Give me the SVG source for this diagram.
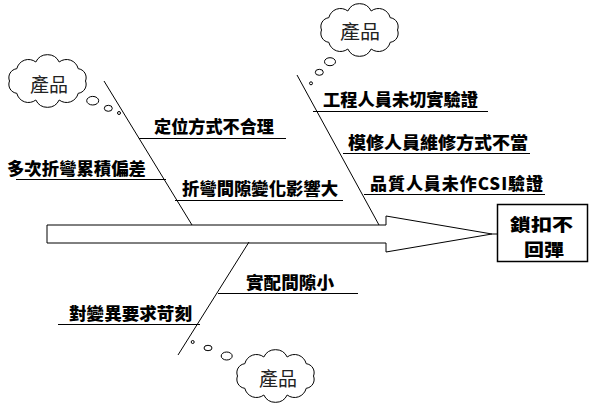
<svg xmlns="http://www.w3.org/2000/svg" width="589" height="407" viewBox="0 0 589 407">
<style>
.ln{stroke:#000;stroke-width:1;fill:none}
.lbl{font-family:"Noto Sans CJK TC","Noto Sans CJK SC",sans-serif;font-weight:900;font-size:17px;fill:#000}
.box{font-family:"Noto Sans CJK TC","Noto Sans CJK SC",sans-serif;font-weight:900;font-size:17.5px;fill:#000}
.cld{fill:#fff;stroke:#000;stroke-width:1}
.ctx{font-family:"Noto Sans CJK TC","Noto Sans CJK SC",sans-serif;font-weight:400;font-size:19px;fill:#222}
</style>
<defs>
<path id="cloud" d="M38,0 A9,9 0 0 1 30.7,12.3 A12,12 0 0 1 11.7,19 A13,13 0 0 1 -11.7,19 A12,12 0 0 1 -30.7,12.3 A9,9 0 0 1 -38,0 A9,9 0 0 1 -30.7,-12.3 A12,12 0 0 1 -11.7,-19 A13,13 0 0 1 11.7,-19 A12,12 0 0 1 30.7,-12.3 A9,9 0 0 1 38,0 Z"/>
</defs>
<rect width="589" height="407" fill="#fff"/>
<g id="connectors">
<polygon class="ln" points="47,225 386,225 386,216 492,234 386,252 386,243 47,243"/>
<line class="ln" x1="492" y1="234" x2="497" y2="234"/>
<line class="ln" x1="104" y1="81" x2="192" y2="225"/>
<line class="ln" x1="297" y1="75" x2="379" y2="225"/>
<line class="ln" x1="249" y1="242" x2="178" y2="355"/>
<line class="ln" x1="139" y1="138.5" x2="286" y2="138.5"/>
<line class="ln" x1="16" y1="179.5" x2="166" y2="179.5"/>
<line class="ln" x1="175" y1="200.5" x2="343" y2="200.5"/>
<line class="ln" x1="313" y1="111.5" x2="488" y2="111.5"/>
<line class="ln" x1="343" y1="153.5" x2="530" y2="153.5"/>
<line class="ln" x1="364" y1="194.5" x2="545" y2="194.5"/>
<line class="ln" x1="218" y1="293.5" x2="358" y2="293.5"/>
<line class="ln" x1="58" y1="324.5" x2="200" y2="324.5"/>
</g>
<g id="effect">
<rect x="497.5" y="204.5" width="90" height="57" fill="#fff" stroke="#000" stroke-width="1.5"/>
<text class="box" x="510" y="230.5" textLength="63" lengthAdjust="spacingAndGlyphs">鎖扣不</text>
<text class="box" x="524" y="256" textLength="40" lengthAdjust="spacingAndGlyphs">回彈</text>
</g>
<g id="cause-1"><text class="lbl" x="154" y="133" textLength="120" lengthAdjust="spacingAndGlyphs">定位方式不合理</text></g>
<g id="cause-2"><text class="lbl" x="7" y="174.5" textLength="139" lengthAdjust="spacingAndGlyphs">多次折彎累積偏差</text></g>
<g id="cause-3"><text class="lbl" x="182" y="195" textLength="156" lengthAdjust="spacingAndGlyphs">折彎間隙變化影響大</text></g>
<g id="cause-4"><text class="lbl" x="323" y="105.5" textLength="155" lengthAdjust="spacingAndGlyphs">工程人員未切實驗證</text></g>
<g id="cause-5"><text class="lbl" x="348" y="149" textLength="180" lengthAdjust="spacingAndGlyphs">模修人員維修方式不當</text></g>
<g id="cause-6"><text class="lbl" x="370" y="189.5" textLength="173" lengthAdjust="spacing">品質人員未作CSI驗證</text></g>
<g id="cause-7"><text class="lbl" x="246" y="288.5" textLength="88" lengthAdjust="spacingAndGlyphs">實配間隙小</text></g>
<g id="cause-8"><text class="lbl" x="69" y="319.5" textLength="123" lengthAdjust="spacingAndGlyphs">對變異要求苛刻</text></g>
<g id="cloud-left">
<use href="#cloud" class="cld" transform="translate(47.5,81)"/>
<ellipse class="cld" cx="92.7" cy="100.7" rx="6" ry="4.3"/>
<ellipse class="cld" cx="108.3" cy="108.3" rx="4" ry="3"/>
<circle class="cld" cx="119" cy="113" r="1.5"/>
<text class="ctx" x="30" y="91.5" textLength="38" lengthAdjust="spacingAndGlyphs">產品</text>
</g>
<g id="cloud-top">
<use href="#cloud" class="cld" transform="translate(359.5,30)"/>
<ellipse class="cld" cx="330" cy="61.7" rx="5.5" ry="4"/>
<ellipse class="cld" cx="319.3" cy="72.3" rx="4" ry="3"/>
<circle class="cld" cx="311" cy="83.3" r="1.5"/>
<text class="ctx" x="340" y="38.5" textLength="40" lengthAdjust="spacingAndGlyphs">產品</text>
</g>
<g id="cloud-bottom">
<use href="#cloud" class="cld" transform="translate(275.5,376)"/>
<ellipse class="cld" cx="226.7" cy="356" rx="5.5" ry="4"/>
<ellipse class="cld" cx="208" cy="348" rx="4" ry="2.7"/>
<circle class="cld" cx="192.7" cy="342" r="1.5"/>
<text class="ctx" x="259" y="385.5" textLength="38" lengthAdjust="spacingAndGlyphs">產品</text>
</g>
</svg>
